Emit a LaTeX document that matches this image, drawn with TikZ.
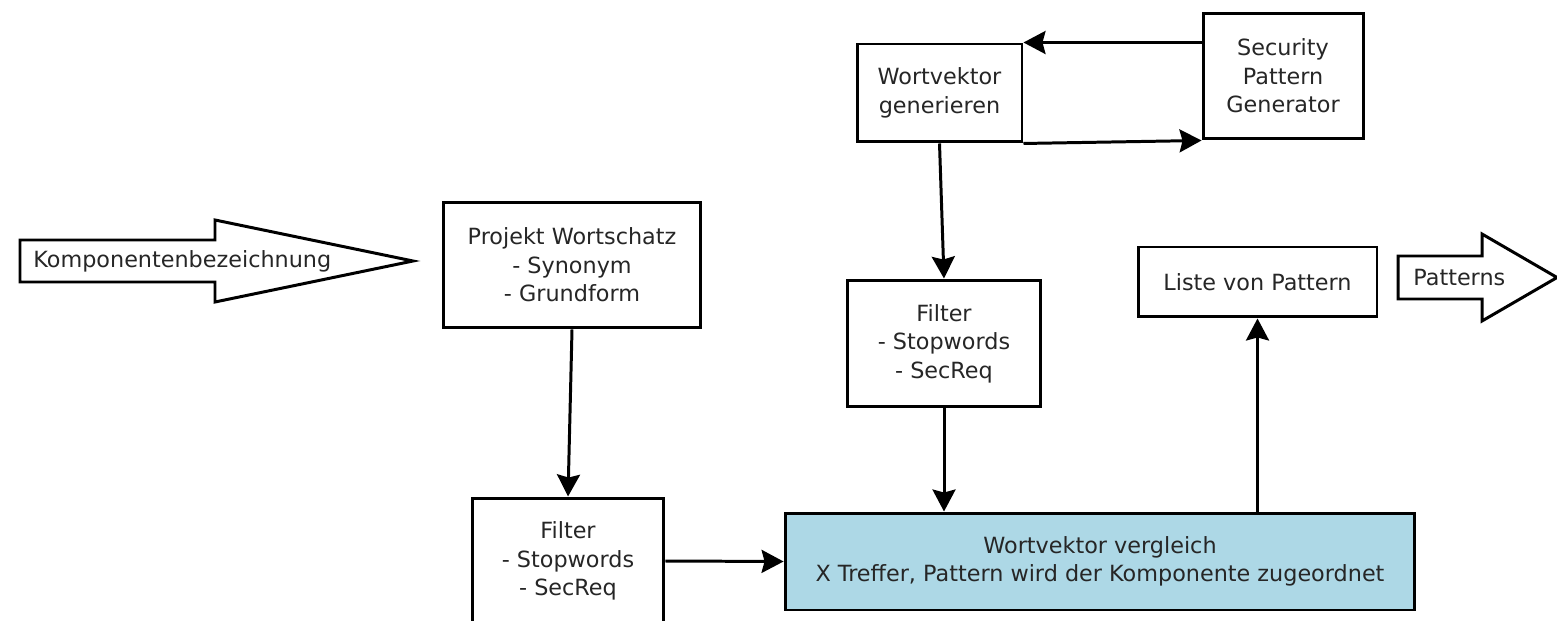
\documentclass[tikz,border=0pt]{standalone}
\usepackage{fontspec}
\setmainfont{DejaVu Sans}
\usetikzlibrary{arrows.meta, positioning, calc}
\definecolor{matchblue}{RGB}{173,216,230}

\begin{document}
\begin{tikzpicture}[x=0.02cm, y=-0.02cm,
    font=\fontsize{12.7}{16.3}\selectfont,
    box/.style={draw, line width=1.7pt, fill=white, align=center,
                inner sep=0pt, text=black!85},
    flow/.style={-{Stealth[length=0.44cm, width=0.46cm, inset=0.06cm]},
                 line width=1.7pt},
    bigarrow/.style={draw, line width=1.7pt, line join=miter},
    arrowtext/.style={anchor=west, inner sep=0pt, text=black!85}]
  \clip (0,0) rectangle (1557,621);

  % Input and output arrows
  \draw[bigarrow] (20,240) -- (215,240) -- (215,220) -- (413,261)
    -- (215,302) -- (215,282) -- (20,282) -- cycle;
  \node[arrowtext] (eingabe) at (33,261) {Komponentenbezeichnung};

  \draw[bigarrow] (1398,256) -- (1482,256) -- (1482,234) -- (1557,277.5)
    -- (1482,321) -- (1482,299) -- (1398,299) -- cycle;
  \node[arrowtext] (ausgabe) at (1413,277.5) {Patterns};

  % Processing boxes
  \node[box, minimum width=5.16cm, minimum height=2.52cm] (wortschatz)
    at (572,265) {Projekt Wortschatz\\- Synonym\\- Grundform};
  \node[box, minimum width=3.84cm, minimum height=2.52cm] (filterL)
    at (568,561) {Filter\\- Stopwords\\- SecReq};
  \node[box, minimum width=3.3cm, minimum height=1.96cm] (vektor)
    at (939.5,93) {Wortvektor\\generieren};
  \node[box, minimum width=3.2cm, minimum height=2.52cm] (generator)
    at (1283,76) {Security\\Pattern\\Generator};
  \node[box, minimum width=3.86cm, minimum height=2.54cm] (filterR)
    at (944,343.5) {Filter\\- Stopwords\\- SecReq};
  \node[box, fill=matchblue, minimum width=12.6cm, minimum height=1.94cm] (vergleich)
    at (1100,561.5) {Wortvektor vergleich\\X Treffer, Pattern wird der Komponente zugeordnet};
  \node[box, minimum width=4.78cm, minimum height=1.4cm] (liste)
    at (1257.5,282) {Liste von Pattern};

  % Connections
  \draw[flow] (wortschatz.south) -- (filterL.north);
  \draw[flow] (filterL.east) -- (vergleich.west);
  \draw[flow] (generator.west |- vektor.north east) -- (vektor.north east);
  \draw[flow] (vektor.south east) -- (generator.south west);
  \draw[flow] (vektor.south) -- (filterR.north);
  \draw[flow] (filterR.south) -- (filterR.south |- vergleich.north);
  \draw[flow] (liste.south |- vergleich.north) -- (liste.south);

\end{tikzpicture}
\end{document}
